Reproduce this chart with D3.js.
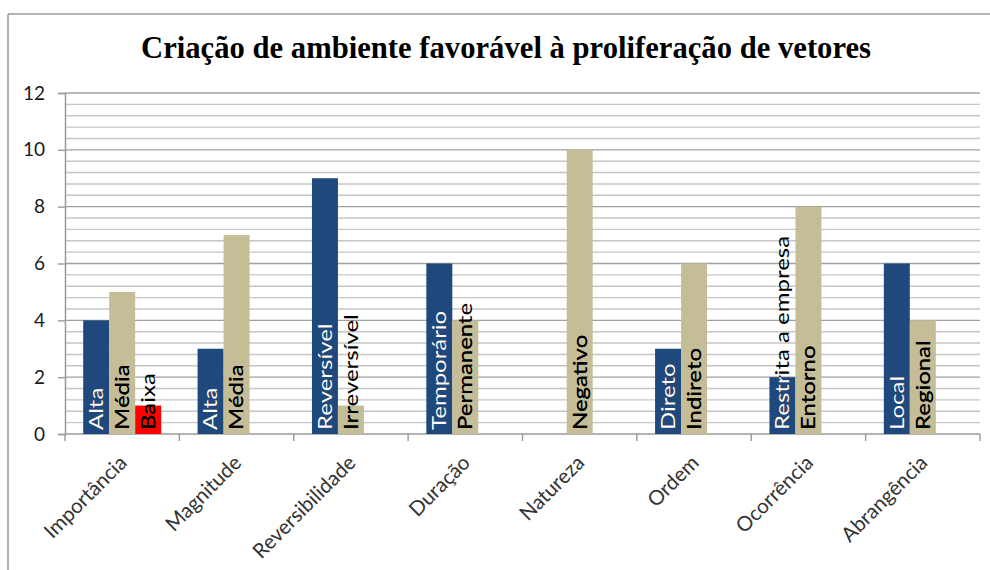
<!DOCTYPE html>
<html>
<head>
<meta charset="utf-8">
<script src="https://cdn.jsdelivr.net/npm/d3@7"></script>
<style>
  body { margin: 0; background: #fff; }
  svg { display: block; }
</style>
</head>
<body>
<svg id="chart" width="990" height="570"></svg>
<script>
const title = "Criação de ambiente favorável à proliferação de vetores";
const categories = ["Importância","Magnitude","Reversibilidade","Duração","Natureza","Ordem","Ocorrência","Abrangência"];
const seriesKeys = ["s1","s2","s3"];
const s1Values = [4, 3, 9, 6, null, 3, 2, 6];
const s1Labels = ["Alta","Alta","Reversível","Temporário",null,"Direto","Restrita a empresa","Local"];
const s2Values = [5, 7, 1, 4, 10, 6, 8, 4];
const s2Labels = ["Média","Média","Irreversível","Permanente","Negativo","Indireto","Entorno","Regional"];
const s3Values = [1, null, null, null, null, null, null, null];
const s3Labels = ["Baixa", null, null, null, null, null, null, null];
const yTicks = [0, 2, 4, 6, 8, 10, 12];

const seriesColors = {s1: "#1f497d", s2: "#c4bd97", s3: "#ff0000"};
const labelColors = {s1: "#ffffff", s2: "#000000", s3: "#000000"};

(function draw() {
const svg = d3.select("#chart");
const pLeft = 65, pRight = 980, pTop = 93, pBottom = 434;

// frame lines (top and left, as in the cropped reference)
svg.append("line").attr("x1", 8).attr("x2", 990).attr("y1", 14).attr("y2", 14)
  .attr("stroke", "#9a9a9a").attr("stroke-width", 1.5);
svg.append("line").attr("x1", 8).attr("x2", 8).attr("y1", 14).attr("y2", 570)
  .attr("stroke", "#9a9a9a").attr("stroke-width", 1.5);

// title
svg.append("text").attr("x", 506).attr("y", 58)
  .attr("text-anchor", "middle")
  .attr("font-family", "'Liberation Serif', 'Times New Roman', serif")
  .attr("font-weight", "bold").attr("font-size", 31)
  .attr("textLength", 730).attr("lengthAdjust", "spacingAndGlyphs")
  .attr("fill", "#000").text(title);

const x = d3.scaleBand().domain(categories).range([pLeft, pRight]).padding(0);
const gapRatio = 1.4;
const barW = x.bandwidth() / (seriesKeys.length + gapRatio);
const xs = d3.scaleBand().domain(seriesKeys)
  .range([barW * gapRatio / 2, barW * gapRatio / 2 + barW * seriesKeys.length]).padding(0);
const y = d3.scaleLinear().domain([0, 12]).range([pBottom, pTop]);

// gridlines
const minor = d3.range(0, 12.0001, 0.4).filter(v => Math.abs(v / 2 - Math.round(v / 2)) > 1e-6);
svg.append("g").selectAll("line").data(minor).join("line")
  .attr("x1", pLeft).attr("x2", pRight)
  .attr("y1", d => y(d)).attr("y2", d => y(d))
  .attr("stroke", "#c6c6c6").attr("stroke-width", 1.4);
svg.append("g").selectAll("line").data(yTicks.filter(d => d > 0)).join("line")
  .attr("x1", pLeft).attr("x2", pRight)
  .attr("y1", d => y(d)).attr("y2", d => y(d))
  .attr("stroke", "#a0a0a0").attr("stroke-width", 1.4);

// y axis
const yAxis = d3.axisLeft(y).tickValues(yTicks).tickSize(7).tickPadding(13);
const gy = svg.append("g").attr("transform", `translate(${pLeft},0)`).call(yAxis);
gy.select(".domain").attr("stroke", "#9a9a9a").attr("stroke-width", 1.5);
gy.selectAll(".tick line").attr("stroke", "#9a9a9a").attr("stroke-width", 1.4);
gy.selectAll(".tick text").attr("font-family", "Lato, sans-serif").attr("font-size", 19)
  .attr("fill", "#1a1a1a");

// x axis baseline and category ticks
svg.append("line").attr("x1", pLeft).attr("x2", pRight).attr("y1", pBottom).attr("y2", pBottom)
  .attr("stroke", "#9a9a9a").attr("stroke-width", 1.5);
const bounds = categories.map(c => x(c)).concat([pRight]);
svg.append("g").selectAll("line").data(bounds).join("line")
  .attr("x1", d => d).attr("x2", d => d).attr("y1", pBottom).attr("y2", pBottom + 7)
  .attr("stroke", "#9a9a9a").attr("stroke-width", 1.4);

// category labels
svg.append("g").selectAll("text").data(categories).join("text")
  .attr("transform", d => `translate(${x(d) + x.bandwidth() / 2 + 6},${pBottom + 30}) rotate(-45)`)
  .attr("text-anchor", "end")
  .attr("font-family", "Lato, sans-serif").attr("font-size", 20.5)
  .attr("fill", "#333").text(d => d);

// bars
const seriesData = {
  s1: {values: s1Values, labels: s1Labels},
  s2: {values: s2Values, labels: s2Labels},
  s3: {values: s3Values, labels: s3Labels}
};
const bars = [];
seriesKeys.forEach(k => {
  categories.forEach((c, i) => {
    const v = seriesData[k].values[i];
    if (v !== null && v !== undefined) {
      bars.push({key: k, cat: c, value: v, label: seriesData[k].labels[i], id: `clip-${k}-${i}`});
    }
  });
});

const defs = svg.append("defs");
defs.selectAll("clipPath").data(bars).join("clipPath").attr("id", d => d.id)
  .append("rect")
  .attr("x", d => x(d.cat) + xs(d.key)).attr("width", xs.bandwidth())
  .attr("y", d => y(d.value)).attr("height", d => y(0) - y(d.value));

svg.append("g").selectAll("rect").data(bars).join("rect")
  .attr("x", d => x(d.cat) + xs(d.key)).attr("width", xs.bandwidth())
  .attr("y", d => y(d.value)).attr("height", d => y(0) - y(d.value))
  .attr("fill", d => seriesColors[d.key]);

// bar labels: dark outside the bar, series colour inside
const labelled = bars.filter(d => d.label);
const lblTransform = d => `translate(${x(d.cat) + xs(d.key) + xs.bandwidth() / 2},${pBottom - 4}) rotate(-90) scale(1,0.8)`;
svg.append("g").selectAll("text").data(labelled).join("text")
  .attr("transform", lblTransform)
  .attr("dy", "0.36em")
  .attr("font-family", "Lato, sans-serif").attr("font-size", 24)
  .attr("fill", "#000").text(d => d.label);
svg.append("g").selectAll("g").data(labelled).join("g")
  .attr("clip-path", d => `url(#${d.id})`)
  .append("text")
  .attr("transform", lblTransform)
  .attr("dy", "0.36em")
  .attr("font-family", "Lato, sans-serif").attr("font-size", 24)
  .attr("fill", d => labelColors[d.key]).text(d => d.label);
})();
</script>
</body>
</html>
